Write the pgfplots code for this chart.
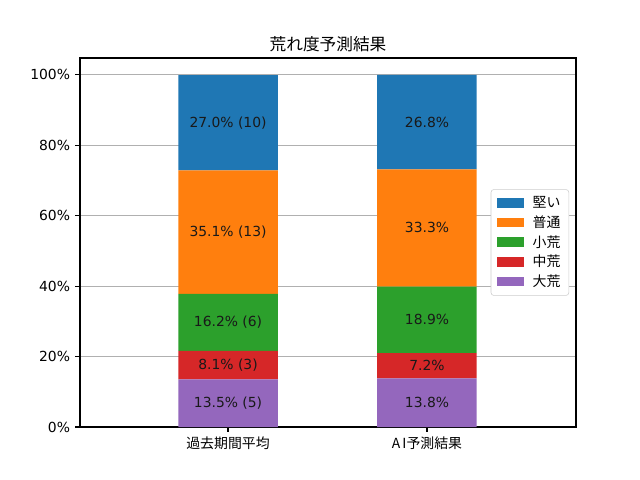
\documentclass[border=0pt]{standalone}
\usepackage{pgfplots}
\pgfplotsset{compat=1.18}
\usepackage{fontspec}
\setmainfont{DejaVu Sans}
\newfontfamily\jp{Noto Sans CJK JP}
\definecolor{cA}{HTML}{1F77B4}
\definecolor{cB}{HTML}{FF7F0E}
\definecolor{cC}{HTML}{2CA02C}
\definecolor{cD}{HTML}{D62728}
\definecolor{cE}{HTML}{9467BD}
\begin{document}
\begin{tikzpicture}
\useasboundingbox (-57.6bp,-38.16bp) rectangle (403.2bp,307.44bp);
\begin{axis}[
  at={(0,0)}, anchor=south west,
  scale only axis, width=357.12bp, height=265.68bp,
  ybar stacked, bar width=0.5,
  xmin=-0.744, xmax=1.749, ymin=0, ymax=104.8,
  xtick={0,1}, xticklabels={{\jp 過去期間平均},{\jp A\kern1.5bp I予測結果}},
  ytick={0,20,40,60,80,100},
  yticklabel={\pgfmathprintnumber{\tick}\%},
  /pgf/number format/assume math mode=true,
  ymajorgrids, xmajorgrids=false,
  grid style={color=black!31, line width=0.8bp},
  axis line style={line width=0.8bp},
  tick align=outside, xtick pos=bottom, ytick pos=left,
  major tick length=3.5bp,
  tick style={line width=0.8bp, black},
  ticklabel style={font=\fontsize{10bp}{12bp}\selectfont},
  xticklabel style={inner sep=0pt, yshift=-3.5bp, anchor=north},
  yticklabel style={inner sep=0pt, xshift=-3.5bp, anchor=east},
  title={\jp 荒れ度予測結果},
  title style={font=\fontsize{12bp}{14bp}\selectfont, inner sep=0pt, anchor=south, yshift=-2bp},
  reverse legend,
  legend style={at={(0.986,0.5)}, anchor=east, draw=black!20, rounded corners=2bp,
    font=\fontsize{10bp}{12bp}\selectfont\jp, inner xsep=4bp, inner ysep=3bp,
    row sep=0.3bp,
    /tikz/every odd column/.append style={column sep=4bp}},
  legend cell align=left,
  legend image code/.code={\fill[#1, sharp corners] (0bp,-3.5bp) rectangle (20bp,3.5bp);},
]
\coordinate (a1) at (axis cs:0,6.75);
\coordinate (a2) at (axis cs:0,17.55);
\coordinate (a3) at (axis cs:0,29.7);
\coordinate (a4) at (axis cs:0,55.35);
\coordinate (a5) at (axis cs:0,86.4);
\coordinate (b1) at (axis cs:1,6.9);
\coordinate (b2) at (axis cs:1,17.4);
\coordinate (b3) at (axis cs:1,30.45);
\coordinate (b4) at (axis cs:1,56.55);
\coordinate (b5) at (axis cs:1,86.6);
\addplot[fill=cE, draw=none] coordinates {(0,13.5) (1,13.8)};
\addlegendentry{大荒}
\addplot[fill=cD, draw=none] coordinates {(0,8.1) (1,7.2)};
\addlegendentry{中荒}
\addplot[fill=cC, draw=none] coordinates {(0,16.2) (1,18.9)};
\addlegendentry{小荒}
\addplot[fill=cB, draw=none] coordinates {(0,35.1) (1,33.3)};
\addlegendentry{普通}
\addplot[fill=cA, draw=none] coordinates {(0,27.0) (1,26.8)};
\addlegendentry{堅い}
\end{axis}
\begin{scope}[every node/.style={font=\fontsize{10bp}{12bp}\selectfont, text=black!90}]
\node at (a1) {13.5\% (5)};
\node at (a2) {8.1\% (3)};
\node at (a3) {16.2\% (6)};
\node at (a4) {35.1\% (13)};
\node at (a5) {27.0\% (10)};
\node at (b1) {13.8\%};
\node at (b2) {7.2\%};
\node at (b3) {18.9\%};
\node at (b4) {33.3\%};
\node at (b5) {26.8\%};
\end{scope}
\end{tikzpicture}
\end{document}
